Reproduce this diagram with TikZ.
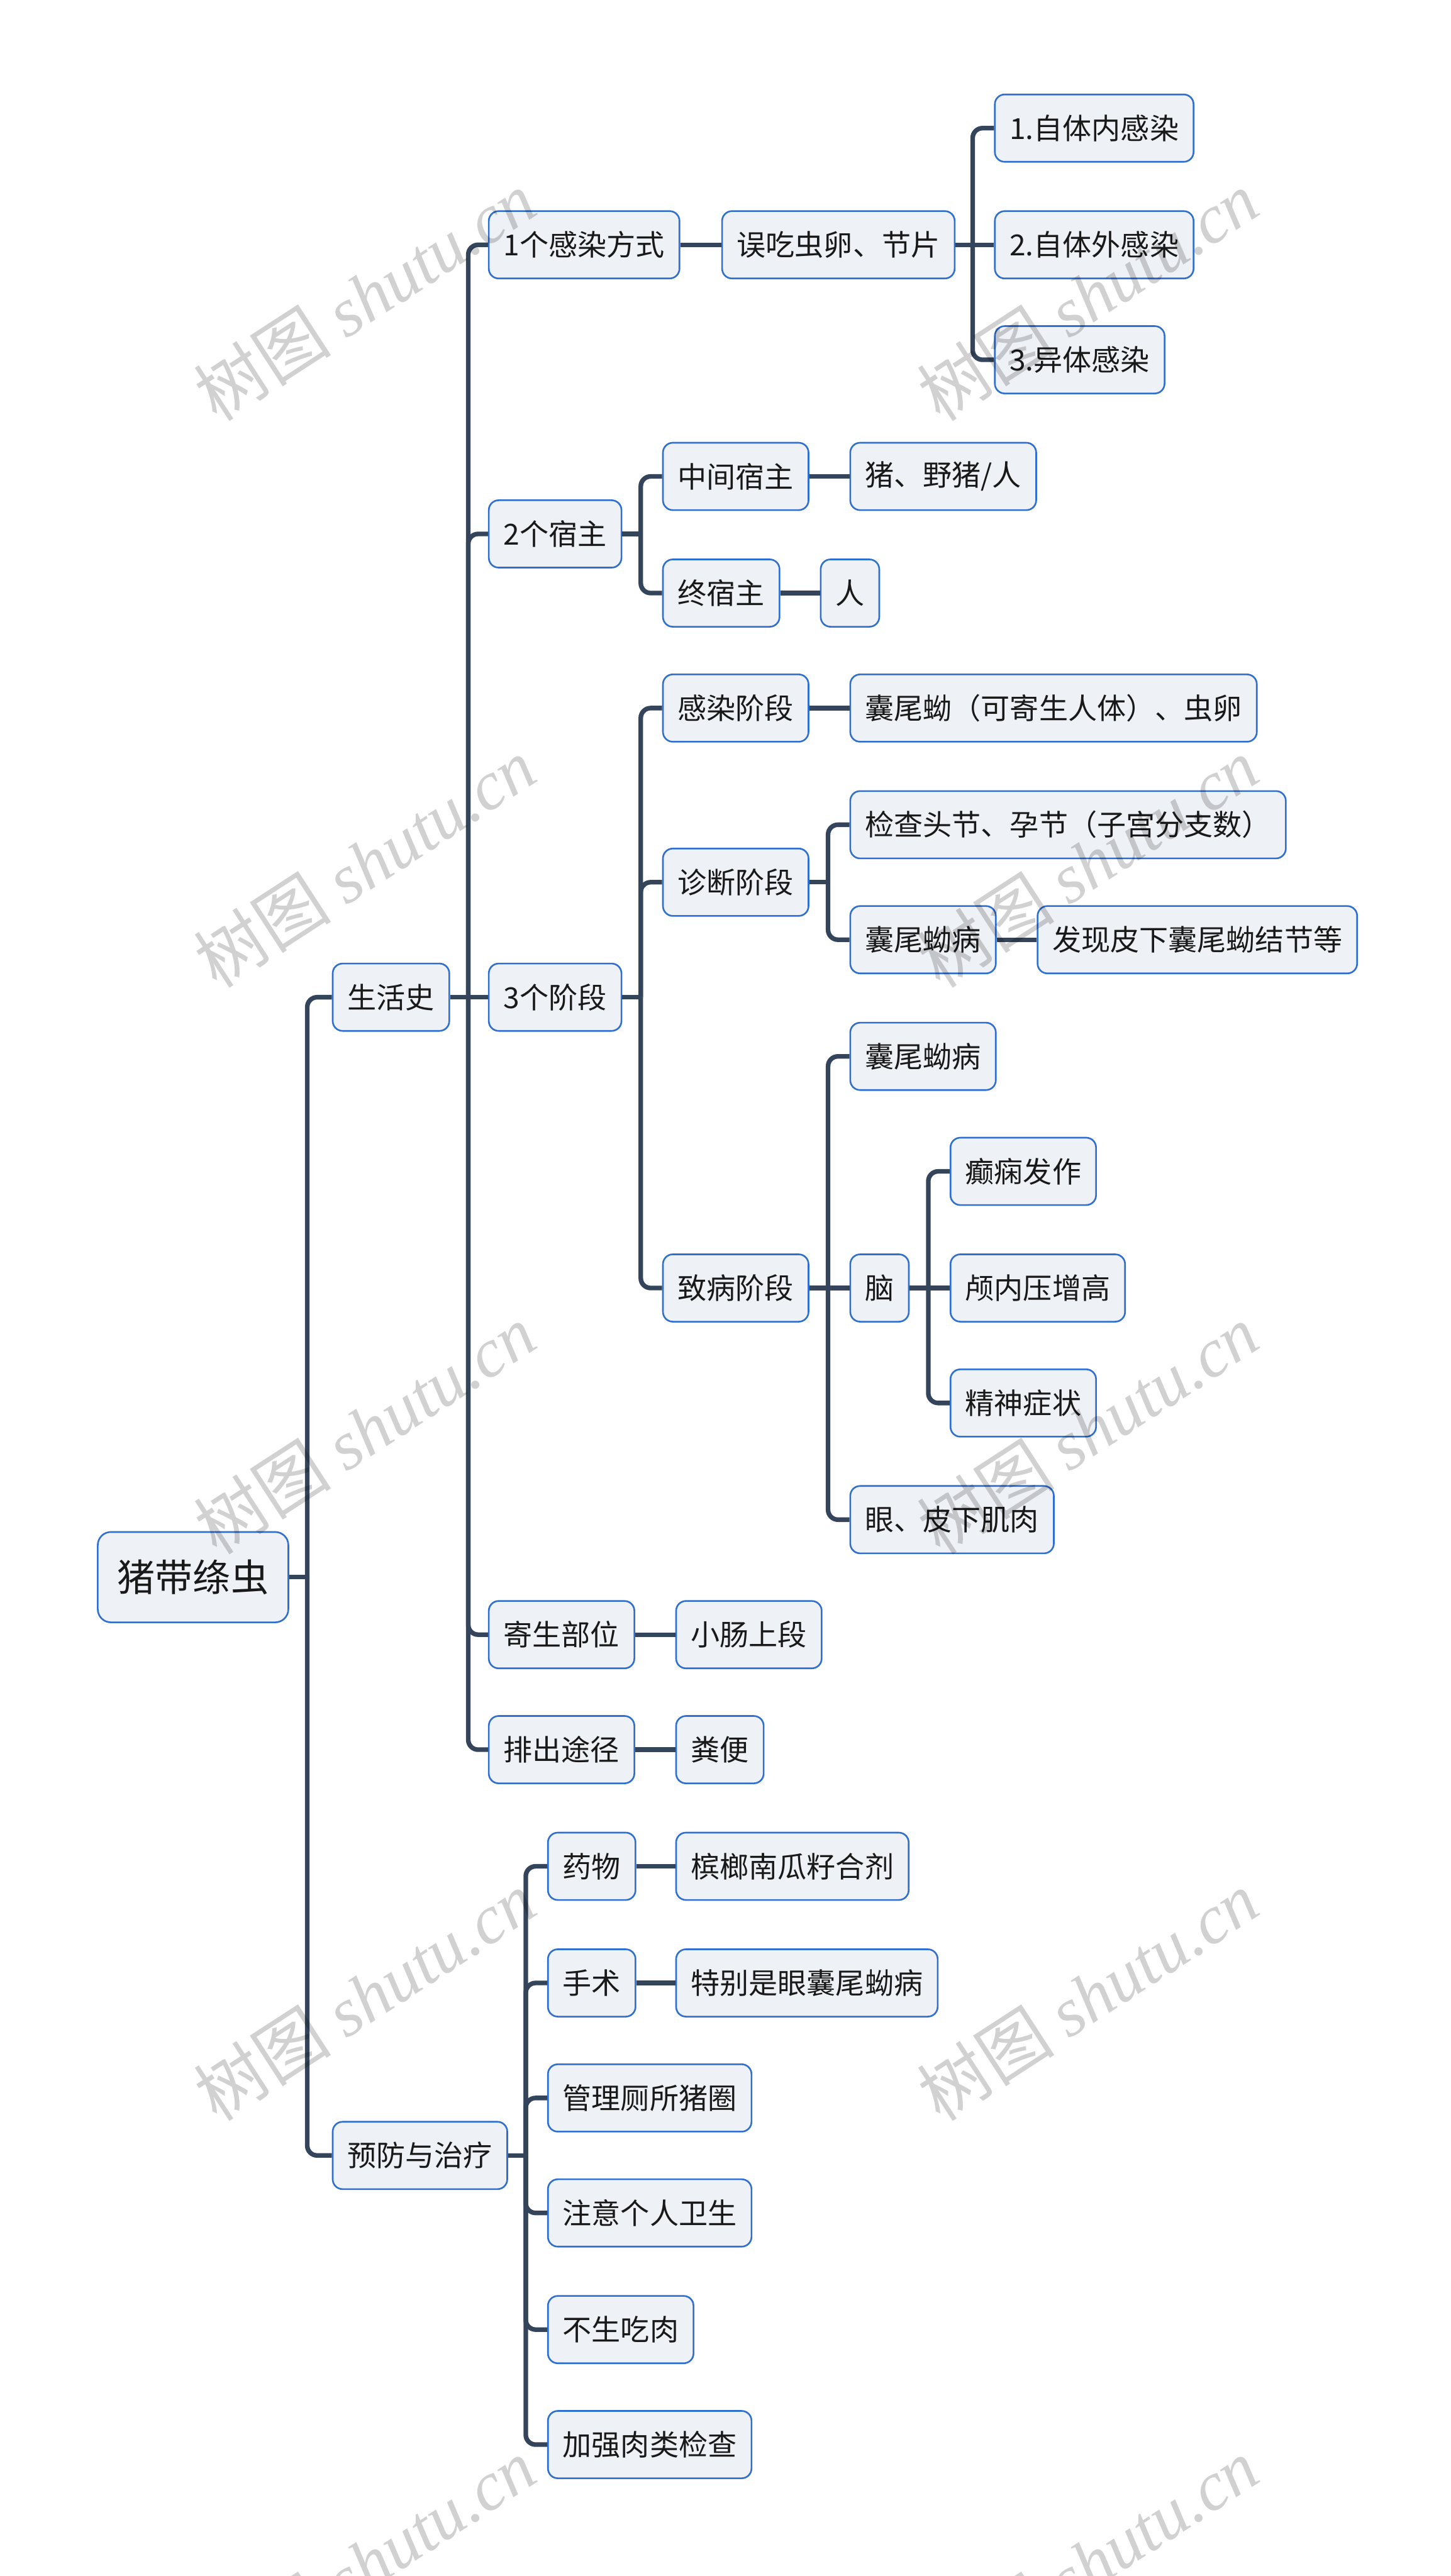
\documentclass[tikz,border=0pt]{standalone}
\usepackage{fontspec}
\setmainfont{Noto Sans CJK SC}
\newfontfamily\wmlatin{Liberation Serif}
\usetikzlibrary{calc}
\definecolor{boxfill}{HTML}{EEF1F5}
\definecolor{boxline}{HTML}{2F6FCF}
\definecolor{connline}{HTML}{34455B}
\tikzset{
  box/.style={draw=boxline, fill=boxfill, line width=1pt, rounded corners=6pt,
    minimum height=41pt, inner xsep=9pt, inner ysep=0pt, anchor=west,
    font=\fontsize{17.65pt}{20pt}\selectfont, text=black!90},
  rootbox/.style={box, minimum height=55pt, inner xsep=12pt, rounded corners=8pt,
    font=\fontsize{23pt}{26pt}\selectfont},
  conn/.style={draw=connline, line width=2.8pt, rounded corners=6pt},
  wm/.style={text=black, text opacity=0.18, rotate=33,
    font=\fontsize{42pt}{46pt}\selectfont, inner sep=0pt}
}
\begin{document}
\begin{tikzpicture}[x=1pt,y=-1pt]
\useasboundingbox (0,0) rectangle (883,1568);
\fill[white] (0,0) rectangle (883,1568);

% nodes
\node[rootbox] (root) at (59,960) {猪带绦虫};
\node[box] (shs) at (202,607) {生活史};
\node[box] (yf) at (202,1312) {预防与治疗};

\node[box] (gr) at (297,149) {1个感染方式};
\node[box] (sz) at (297,325) {2个宿主};
\node[box] (jd) at (297,607) {3个阶段};
\node[box] (jsbw) at (297,995) {寄生部位};
\node[box] (pc) at (297,1065) {排出途径};

\node[box] (wc) at (439,149) {误吃虫卵、节片};
\node[box] (g1) at (605,78) {1.自体内感染};
\node[box] (g2) at (605,149) {2.自体外感染};
\node[box] (g3) at (605,219) {3.异体感染};

\node[box] (zj) at (403,290) {中间宿主};
\node[box] (zjv) at (517,290) {猪、野猪/人};
\node[box] (zz) at (403,361) {终宿主};
\node[box] (zzv) at (499,361) {人};

\node[box] (gran) at (403,431) {感染阶段};
\node[box] (granv) at (517,431) {囊尾蚴（可寄生人体）、虫卵};
\node[box] (zd) at (403,537) {诊断阶段};
\node[box] (zd1) at (517,502) {检查头节、孕节（子宫分支数）};
\node[box] (zd2) at (517,572) {囊尾蚴病};
\node[box] (zd2v) at (631,572) {发现皮下囊尾蚴结节等};
\node[box] (zb) at (403,784) {致病阶段};
\node[box] (zb1) at (517,643) {囊尾蚴病};
\node[box] (nao) at (517,784) {脑};
\node[box] (n1) at (578,713) {癫痫发作};
\node[box] (n2) at (578,784) {颅内压增高};
\node[box] (n3) at (578,854) {精神症状};
\node[box] (zb3) at (517,925) {眼、皮下肌肉};

\node[box] (jsbwv) at (411,995) {小肠上段};
\node[box] (pcv) at (411,1065) {粪便};

\node[box] (yw) at (333,1136) {药物};
\node[box] (ywv) at (411,1136) {槟榔南瓜籽合剂};
\node[box] (ss) at (333,1207) {手术};
\node[box] (ssv) at (411,1207) {特别是眼囊尾蚴病};
\node[box] (p3) at (333,1277) {管理厕所猪圈};
\node[box] (p4) at (333,1347) {注意个人卫生};
\node[box] (p5) at (333,1418) {不生吃肉};
\node[box] (p6) at (333,1488) {加强肉类检查};

% junctions
\coordinate (jroot) at (187,960);
\coordinate (jshs) at (285,607);
\coordinate (jwc) at (592,149);
\coordinate (jsz) at (390,325);
\coordinate (jjd) at (390,607);
\coordinate (jzd) at (504,537);
\coordinate (jzb) at (504,784);
\coordinate (jnao) at (565,784);
\coordinate (jyf) at (320,1312);

% connectors
\draw[conn] (root.east) -- (jroot);
\draw[conn] (jroot) |- (shs.west);
\draw[conn] (jroot) |- (yf.west);

\draw[conn] (shs.east) -- (jshs);
\draw[conn] (jshs) |- (gr.west);
\draw[conn] (jshs) |- (sz.west);
\draw[conn] (jshs) -- (jd.west);
\draw[conn] (jshs) |- (jsbw.west);
\draw[conn] (jshs) |- (pc.west);

\draw[conn] (gr.east) -- (wc.west);
\draw[conn] (wc.east) -- (jwc);
\draw[conn] (jwc) |- (g1.west);
\draw[conn] (jwc) -- (g2.west);
\draw[conn] (jwc) |- (g3.west);

\draw[conn] (sz.east) -- (jsz);
\draw[conn] (jsz) |- (zj.west);
\draw[conn] (jsz) |- (zz.west);
\draw[conn] (zj.east) -- (zjv.west);
\draw[conn] (zz.east) -- (zzv.west);

\draw[conn] (jd.east) -- (jjd);
\draw[conn] (jjd) |- (gran.west);
\draw[conn] (jjd) |- (zd.west);
\draw[conn] (jjd) |- (zb.west);
\draw[conn] (gran.east) -- (granv.west);

\draw[conn] (zd.east) -- (jzd);
\draw[conn] (jzd) |- (zd1.west);
\draw[conn] (jzd) |- (zd2.west);
\draw[conn] (zd2.east) -- (zd2v.west);

\draw[conn] (zb.east) -- (jzb);
\draw[conn] (jzb) |- (zb1.west);
\draw[conn] (jzb) -- (nao.west);
\draw[conn] (jzb) |- (zb3.west);

\draw[conn] (nao.east) -- (jnao);
\draw[conn] (jnao) |- (n1.west);
\draw[conn] (jnao) -- (n2.west);
\draw[conn] (jnao) |- (n3.west);

\draw[conn] (jsbw.east) -- (jsbwv.west);
\draw[conn] (pc.east) -- (pcv.west);

\draw[conn] (yf.east) -- (jyf);
\draw[conn] (jyf) |- (yw.west);
\draw[conn] (jyf) |- (ss.west);
\draw[conn] (jyf) |- (p3.west);
\draw[conn] (jyf) |- (p4.west);
\draw[conn] (jyf) |- (p5.west);
\draw[conn] (jyf) |- (p6.west);
\draw[conn] (yw.east) -- (ywv.west);
\draw[conn] (ss.east) -- (ssv.west);

% watermarks
\foreach \wy [count=\i] in {180,525,870,1215,1560}{
  \node[wm] (wmL\i) at (222,\wy) {树图 {\wmlatin\itshape shutu.cn}};
  \node[wm] (wmR\i) at (662,\wy) {树图 {\wmlatin\itshape shutu.cn}};
}
\end{tikzpicture}
\end{document}
